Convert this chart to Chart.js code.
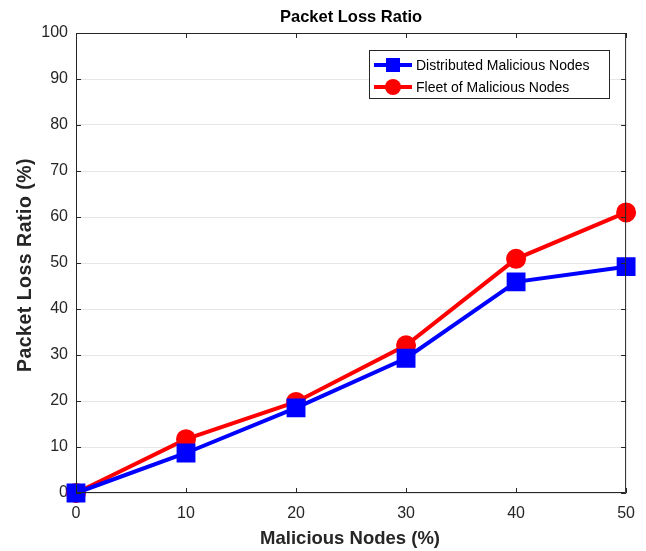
<!DOCTYPE html>
<html>
<head>
<meta charset="utf-8">
<script src="https://cdn.jsdelivr.net/npm/chart.js@4"></script>
<style>
  html, body { margin: 0; padding: 0; background: #fff; }
  #wrap { width: 646px; height: 551px; }
</style>
</head>
<body>
<div id="wrap"><canvas id="plrChart" width="646" height="551"></canvas></div>
<script>
const maliciousNodes = [0, 10, 20, 30, 40, 50];
const distributedLoss = [0, 8.7, 18.5, 29.3, 45.9, 49.2];
const fleetLoss = [0, 11.7, 19.8, 32.1, 50.9, 61.0];
const yTicks = [0, 10, 20, 30, 40, 50, 60, 70, 80, 90, 100];
const xTicks = [0, 10, 20, 30, 40, 50];

const FONT = "'Liberation Sans', Arial, sans-serif";
const AXIS_COL = "#262626";

function toPoints(ys) {
  return maliciousNodes.map((x, i) => ({ x: x, y: ys[i] }));
}

// frame, inward ticks, titles and legend drawn like the matlab figure
const framePlugin = {
  id: "frame",
  afterDraw(chart) {
    const ctx = chart.ctx;
    const a = chart.chartArea;
    const xs = chart.scales.x, ys = chart.scales.y;
    ctx.save();
    ctx.strokeStyle = AXIS_COL;
    ctx.lineWidth = 1;
    ctx.beginPath();
    ctx.rect(a.left + 0.5, a.top + 0.5, a.right - a.left - 1, a.bottom - a.top - 1);
    ctx.stroke();
    // inward ticks
    ctx.beginPath();
    xTicks.forEach(v => {
      const px = Math.round(xs.getPixelForValue(v)) + 0.5;
      ctx.moveTo(px, a.bottom); ctx.lineTo(px, a.bottom - 5);
      ctx.moveTo(px, a.top); ctx.lineTo(px, a.top + 5);
    });
    yTicks.forEach(v => {
      const py = Math.round(ys.getPixelForValue(v)) + 0.5;
      ctx.moveTo(a.left, py); ctx.lineTo(a.left + 5, py);
      ctx.moveTo(a.right, py); ctx.lineTo(a.right - 5, py);
    });
    ctx.stroke();

    // titles
    ctx.fillStyle = "#000";
    ctx.font = "bold 16.5px " + FONT;
    ctx.textAlign = "center";
    ctx.textBaseline = "middle";
    ctx.fillText("Packet Loss Ratio", (a.left + a.right) / 2, 17);
    ctx.fillStyle = AXIS_COL;
    ctx.font = "bold 18.5px " + FONT;
    ctx.fillText("Malicious Nodes (%)", (a.left + a.right) / 2 - 1, 539);
    ctx.translate(26, 265);
    ctx.rotate(-Math.PI / 2);
    ctx.font = "bold 19.5px " + FONT;
    ctx.letterSpacing = "0.5px";
    ctx.fillText("Packet Loss Ratio (%)", 0, 0);
    ctx.restore();

    // legend box
    ctx.save();
    const bx = 369, by = 50, bw = 240, bh = 48;
    ctx.fillStyle = "#fff";
    ctx.fillRect(bx, by, bw, bh);
    ctx.strokeStyle = AXIS_COL;
    ctx.lineWidth = 1;
    ctx.strokeRect(bx + 0.5, by + 0.5, bw, bh);
    chart.data.datasets.forEach((ds, i) => {
      const cy = by + 15 + i * 22;
      ctx.strokeStyle = ds.borderColor;
      ctx.lineWidth = 4;
      ctx.beginPath();
      ctx.moveTo(bx + 5, cy); ctx.lineTo(bx + 43, cy);
      ctx.stroke();
      ctx.fillStyle = ds.borderColor;
      ctx.beginPath();
      if (ds.pointStyle === "rect") {
        ctx.rect(bx + 24 - 7, cy - 7, 14, 14);
      } else {
        ctx.arc(bx + 24, cy, 8, 0, Math.PI * 2);
      }
      ctx.fill();
      ctx.fillStyle = "#000";
      ctx.font = "14px " + FONT;
      ctx.textAlign = "left";
      ctx.textBaseline = "middle";
      ctx.fillText(ds.label, bx + 47, cy + 1);
    });
    ctx.restore();
  }
};

new Chart(document.getElementById("plrChart"), {
  type: "line",
  data: {
    datasets: [
      {
        label: "Distributed Malicious Nodes",
        data: toPoints(distributedLoss),
        borderColor: "#0000ff",
        backgroundColor: "#0000ff",
        borderWidth: 4,
        pointStyle: "rect",
        pointRadius: 10.5,
        clip: false
      },
      {
        label: "Fleet of Malicious Nodes",
        data: toPoints(fleetLoss),
        borderColor: "#ff0000",
        backgroundColor: "#ff0000",
        borderWidth: 4,
        pointStyle: "circle",
        pointRadius: 8,
        clip: false
      }
    ]
  },
  options: {
    responsive: false,
    animation: false,
    layout: { padding: { top: 33, right: 18, left: 0, bottom: 0 } },
    plugins: {
      legend: { display: false },
      title: { display: false },
      tooltip: { enabled: false }
    },
    scales: {
      x: {
        type: "linear",
        min: 0,
        max: 50,
        afterBuildTicks: s => { s.ticks = xTicks.map(v => ({ value: v })); },
        afterFit: s => { s.height = 58; },
        grid: { display: false, drawTicks: false },
        border: { display: false },
        ticks: { color: AXIS_COL, font: { family: FONT, size: 16 }, padding: 11 }
      },
      y: {
        min: 0,
        max: 100,
        afterBuildTicks: s => { s.ticks = yTicks.map(v => ({ value: v })); },
        afterFit: s => { s.width = 76; },
        grid: { color: "#e6e6e6", lineWidth: 1, drawTicks: false },
        border: { display: false },
        ticks: { color: AXIS_COL, font: { family: FONT, size: 16 }, padding: 8 }
      }
    }
  },
  plugins: [framePlugin]
});
</script>
</body>
</html>
